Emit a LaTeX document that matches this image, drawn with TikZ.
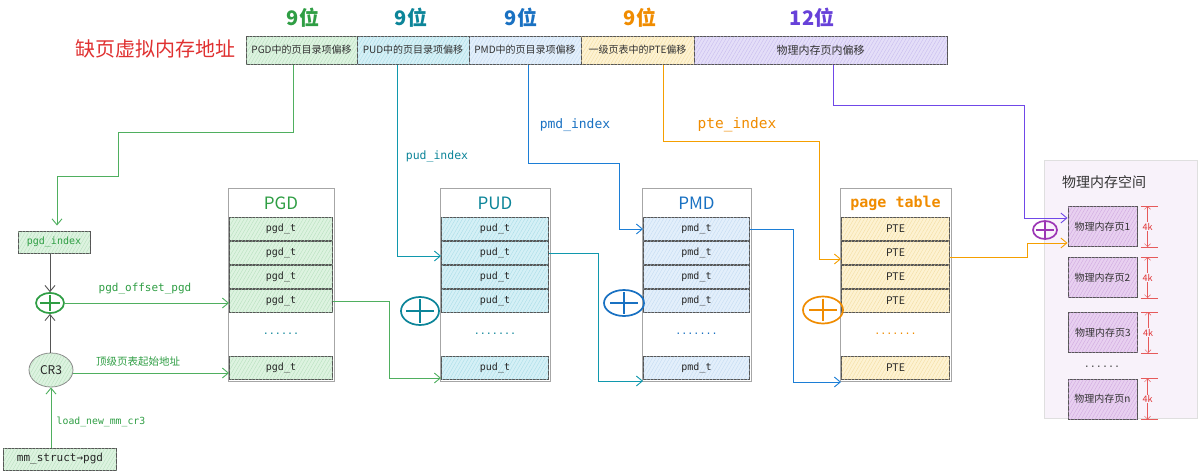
\documentclass[tikz,border=0pt]{standalone}
\usepackage{fontspec}
\setmainfont{Noto Sans CJK SC}
\newfontfamily\mono{DejaVu Sans Mono}
\usetikzlibrary{arrows.meta,patterns.meta,shapes.geometric,calc}
\newcommand\myfs[1]{\fontsize{#1}{#1}\selectfont}
\definecolor{cGreen}{HTML}{2F9E44}
\definecolor{cTeal}{HTML}{0C8599}
\definecolor{cBlue}{HTML}{1971C2}
\definecolor{cOrange}{HTML}{F08C00}
\definecolor{cPurple}{HTML}{6741D9}
\definecolor{cViolet}{HTML}{9C36B5}
\definecolor{cRed}{HTML}{E03131}
\definecolor{lGreen}{HTML}{4FAF5F}
\definecolor{lTeal}{HTML}{1098AD}
\definecolor{lBlue}{HTML}{1C7ED6}
\definecolor{lOrange}{HTML}{F59F00}
\definecolor{lPurple}{HTML}{7048E8}
\definecolor{gfill}{HTML}{DDF3E0}
\definecolor{ghatch}{HTML}{B5DFBC}
\definecolor{tfill}{HTML}{D5F0F6}
\definecolor{thatch}{HTML}{A6DCE7}
\definecolor{bfill}{HTML}{E3EFFB}
\definecolor{bhatch}{HTML}{C2DAF2}
\definecolor{yfill}{HTML}{FDF2D2}
\definecolor{yhatch}{HTML}{F3DC9E}
\definecolor{pfill}{HTML}{E4DEF8}
\definecolor{phatch}{HTML}{C6BAEE}
\definecolor{pgfill}{HTML}{E8D0F0}
\definecolor{pghatch}{HTML}{CFA6DF}
\definecolor{physbg}{HTML}{F8F2FA}
\definecolor{bordc}{HTML}{555555}
\begin{document}
\begin{tikzpicture}[x=1pt,y=-1pt,
  hatch/.style={postaction={pattern={Lines[angle=60,distance=3pt,line width=0.35pt]},pattern color=#1}},
  seg/.style={draw=bordc, line width=1pt, minimum height=28pt, inner sep=0pt, font=\myfs{10}, text=black!80},
  hdr/.style={font=\bfseries\myfs{20}},
  rowbox/.style={draw=bordc, line width=1pt, minimum height=23pt, inner sep=0pt},
  tabbox/.style={draw=gray!70, line width=1pt, fill=white, inner sep=0pt, minimum height=193pt},
  conn/.style={line width=0.9pt, -{Straight Barb[length=6pt,width=10pt]}},
  plusbox/.style={ellipse, draw=#1, line width=1.7pt, inner sep=0pt},
  lbl/.style={font=\mono\myfs{#1}},
  dots/.style={font=\mono\myfs{10}},
  page/.style={draw=bordc, line width=1pt, fill=pgfill, hatch=pghatch, minimum width=69pt, minimum height=40pt, inner sep=0pt, font=\myfs{10}, text=black!80},
  dim/.style={cRed!80, line width=0.5pt}
]
\useasboundingbox[fill=white] (0,0) rectangle (1200,474);

% ---------- top address bar ----------
\node[font=\myfs{20}, text=cRed] (title) at (155,49) {缺页虚拟内存地址};
\node[seg, fill=gfill, hatch=ghatch, minimum width=111pt] (s1) at (301.5,50) {PGD中的页目录项偏移};
\node[seg, fill=tfill, hatch=thatch, minimum width=112pt] (s2) at (413,50) {PUD中的页目录项偏移};
\node[seg, fill=bfill, hatch=bhatch, minimum width=112pt] (s3) at (525,50) {PMD中的页目录项偏移};
\node[seg, fill=yfill, hatch=yhatch, minimum width=113pt] (s4) at (637.5,50) {一级页表中的PTE偏移};
\node[seg, fill=pfill, hatch=phatch, minimum width=253pt, font=\myfs{11}] (s5) at (820.5,50) {物理内存页内偏移};
\node[hdr, text=cGreen] (h1) at (303,18) {9位};
\node[hdr, text=cTeal] (h2) at (411,18) {9位};
\node[hdr, text=cBlue] (h3) at (521,18) {9位};
\node[hdr, text=cOrange] (h4) at (640,18) {9位};
\node[hdr, text=cPurple] (h5) at (812,18) {12位};

% ---------- left part ----------
\node[draw=bordc, line width=1pt, fill=gfill, hatch=ghatch, minimum width=72pt, minimum height=22pt, inner sep=0pt, lbl=10, text=cGreen] (pidx) at (54,242) {pgd\_index};
\node[plusbox=cGreen, minimum width=28pt, minimum height=20pt] (pG) at (50,303) {};
\node[ellipse, draw=bordc!70, line width=0.8pt, fill=gfill, hatch=ghatch, minimum width=44pt, minimum height=34pt, inner sep=0pt, font=\myfs{12}, text=black!85] (cr3) at (51,370) {CR3};
\node[draw=bordc, line width=1pt, fill=gfill, hatch=ghatch, minimum width=113pt, minimum height=22pt, inner sep=0pt, lbl=11, text=black!85] (mm) at (60,459) {mm\_struct→pgd};

\node[lbl=11, text=cGreen] (lofs) at (145,289) {pgd\_offset\_pgd};
\node[font=\myfs{10.5}, text=cGreen] (ltop) at (138,362) {顶级页表起始地址};
\node[lbl=9.8, text=cGreen] (lload) at (101,422) {load\_new\_mm\_cr3};

% ---------- tables ----------
% PGD
\node[tabbox, minimum width=106pt] (pgd) at (281,284.5) {};
\node[font=\myfs{17}, text=cGreen] (pgdh) at (281,203) {PGD};
\foreach \i/\y in {1/229,2/253,3/277,4/301,5/368}
  \node[rowbox, fill=gfill, hatch=ghatch, minimum width=103pt, lbl=10, text=black!85] (pgd\i) at (281,\y) {pgd\_t};
\node[dots, text=cTeal] (pgdd) at (281,334) {......};
% PUD
\node[tabbox, minimum width=110pt] (pud) at (495,284.5) {};
\node[font=\myfs{17}, text=cTeal] (pudh) at (495,203) {PUD};
\foreach \i/\y in {1/229,2/253,3/277,4/301,5/368}
  \node[rowbox, fill=tfill, hatch=thatch, minimum width=107pt, lbl=10, text=black!85] (pud\i) at (495,\y) {pud\_t};
\node[dots, text=cTeal] (pudd) at (495,334) {.......};
% PMD
\node[tabbox, minimum width=109pt] (pmd) at (696.5,284.5) {};
\node[font=\myfs{17}, text=cBlue] (pmdh) at (696.5,203) {PMD};
\foreach \i/\y in {1/229,2/253,3/277,4/301,5/368}
  \node[rowbox, fill=bfill, hatch=bhatch, minimum width=106pt, lbl=10, text=black!85] (pmd\i) at (696.5,\y) {pmd\_t};
\node[dots, text=cBlue] (pmdd) at (696.5,334) {.......};
% page table
\node[tabbox, minimum width=111pt] (pt) at (895.5,284.5) {};
\node[font=\mono\bfseries\myfs{15}, text=cOrange] (pth) at (895.5,203) {page table};
\foreach \i/\y in {1/229,2/253,3/277,4/301,5/368}
  \node[rowbox, fill=yfill, hatch=yhatch, minimum width=108pt, font=\myfs{10.5}, text=black!85] (pt\i) at (895.5,\y) {PTE};
\node[dots, text=cOrange] (ptd) at (895.5,334) {.......};

% plus marks
\node[plusbox=cTeal, minimum width=38pt, minimum height=28pt] (pT) at (420,311) {};
\node[plusbox=cBlue, minimum width=40pt, minimum height=26pt] (pB) at (624,303) {};
\node[plusbox=cOrange, minimum width=40pt, minimum height=27pt] (pO) at (823,310) {};

% ---------- physical memory ----------
\node[draw=gray!25, line width=0.8pt, fill=physbg, minimum width=153pt, minimum height=258pt, inner sep=0pt] (phys) at (1120.5,289) {};
\node[font=\myfs{14}, text=black!80] (physh) at (1104,182) {物理内存空间};
\node[page] (pg1) at (1102.5,226.5) {物理内存页1};
\node[page] (pg2) at (1102.5,277.5) {物理内存页2};
\node[page] (pg3) at (1103,332.5) {物理内存页3};
\node[page] (pgn) at (1102.5,399) {物理内存页n};
\node[dots, text=black!70] (physd) at (1102,367) {......};
\foreach \p in {pg1,pg2,pg3,pgn}{
  \draw[dim] ([xshift=3pt]\p.north east) -- ([xshift=20pt]\p.north east);
  \draw[dim] ([xshift=3pt]\p.south east) -- ([xshift=20pt]\p.south east);
  \draw[dim, {Straight Barb[length=3pt,width=6pt]}-{Straight Barb[length=3pt,width=6pt]}] ([xshift=10pt]\p.north east) -- ([xshift=10pt]\p.south east) node[midway, fill=physbg, inner sep=0.5pt, font=\myfs{9}, text=cRed] {4k};
}
\node[plusbox=cViolet, minimum width=24pt, minimum height=18pt] (pV) at (1045,230) {};

\foreach \p/\c/\v/\h in {pG/cGreen/2.5/5,pT/cTeal/3/6,pB/cBlue/3/7,pO/cOrange/3/7,pV/cViolet/2/4}{
  \draw[\c, line width=1.7pt, shorten <=\v pt, shorten >=\v pt] (\p.north) -- (\p.south);
  \draw[\c, line width=1.7pt, shorten <=\h pt, shorten >=\h pt] (\p.west) -- (\p.east);
}

% ---------- connectors ----------
\draw[conn, lGreen] ([xshift=-8.5pt]s1.south) |- (118,132) |- (57,176) -- ([xshift=3pt,yshift=5pt]pidx.north);
\draw[conn, bordc] (pidx.south -| pG.north) -- (pG.north);
\draw[conn, bordc] (cr3.north -| pG.south) -- (pG.south);
\draw[conn, lGreen] (mm.north -| cr3.south) -- (cr3.south);
\draw[conn, lGreen] (pG.east) -- (pG.east -| pgd4.west);
\draw[conn, lGreen] ([yshift=-3pt]cr3.east) -- ([yshift=-3pt]cr3.east -| pgd5.west);

\draw[conn, lTeal] ([xshift=-16pt]s2.south) |- ([yshift=-3pt]pud2.west);
\node[lbl=11.5, text=cTeal] (lpud) at (437,156) {pud\_index};
\draw[conn, lBlue] ([xshift=3pt]s3.south) |- (619,163) |- (pmd1.west);
\node[lbl=13, text=cBlue] (lpmd) at (575,125) {pmd\_index};
\draw[conn, lOrange] ([xshift=25.5pt]s4.south) |- (819,141) |- ([yshift=-6pt]pt2.west);
\node[lbl=14.5, text=cOrange] (lpte) at (737,125) {pte\_index};
\draw[conn, lPurple] ([xshift=12.5pt]s5.south) |- (1024,105) |- ([yshift=8.5pt]pg1.west);

\draw[conn, lGreen] (pgd4.east) -| ([xshift=-52pt,yshift=-10pt]pud5.west) -- ([yshift=-10pt]pud5.west);
\draw[conn, lTeal] (pud2.east) -| ([xshift=-45pt,yshift=-13pt]pmd5.west) -- ([yshift=-13pt]pmd5.west);
\draw[conn, lBlue] (pmd1.east) -| ([xshift=-48pt,yshift=-14pt]pt5.west) -- ([yshift=-14pt]pt5.west);
\draw[conn, lOrange] ([yshift=-4pt]pt2.east) -| (1027,243) -- ([yshift=-16.5pt]pg1.west);
\end{tikzpicture}
\end{document}
